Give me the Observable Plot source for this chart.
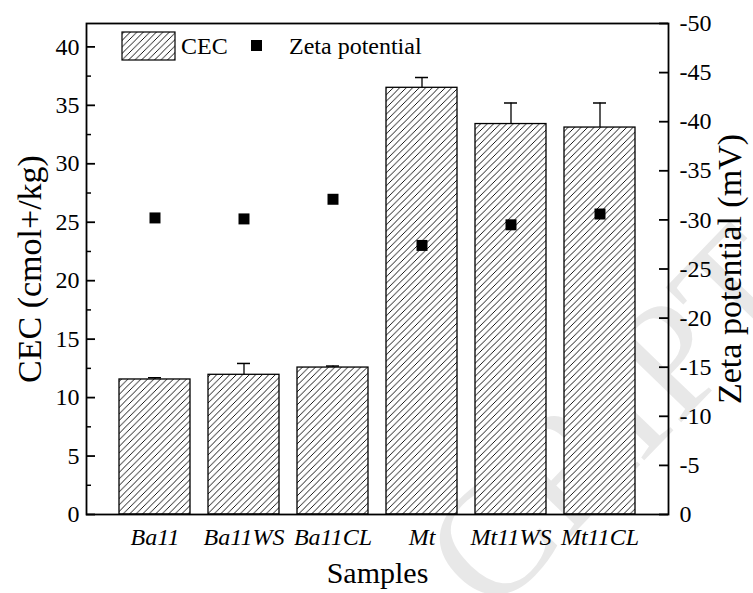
<!DOCTYPE html>
<html><head><meta charset="utf-8">
<script src="https://cdn.jsdelivr.net/npm/d3@7"></script>
<script src="https://cdn.jsdelivr.net/npm/@observablehq/plot@0.6"></script>
<style>
body{margin:0;background:#fff}
#chart{position:relative;width:753px;height:593px}
#chart svg{display:block}
</style>
</head><body><div id="chart"></div>
<script>
const samples = ["Ba11", "Ba11WS", "Ba11CL", "Mt", "Mt11WS", "Mt11CL"];
const cec = [11.55, 11.95, 12.57, 36.5, 33.4, 33.1];
const cecErr = [0.15, 0.97, 0.13, 0.88, 1.8, 2.1];
const zeta = [-30.2, -30.1, -32.1, -27.4, -29.5, -30.6];
const leftTicks = [0, 5, 10, 15, 20, 25, 30, 35, 40];
const leftMinor = [2.5, 7.5, 12.5, 17.5, 22.5, 27.5, 32.5, 37.5];
const rightTicks = [0, -5, -10, -15, -20, -25, -30, -35, -40, -45, -50];
const CEC_MAX = 42, ZETA_MIN = -50;
const toLeft = z => z / ZETA_MIN * CEC_MAX;

const data = samples.map((s, i) => ({s, cec: cec[i], err: cecErr[i], zeta: zeta[i]}));

const W = 753, H = 593, mL = 86, mR = 85, mT = 23, mB = 79;
const plotW = W - mL - mR;
const serif = "'Liberation Serif', 'Times New Roman', serif";

const plot = Plot.plot({
  width: W, height: H,
  marginLeft: mL, marginRight: mR, marginTop: mT, marginBottom: mB,
  style: {fontFamily: serif, background: "#fff", color: "#000", overflow: "visible"},
  x: {domain: samples, paddingInner: 0.2, paddingOuter: 0.35, label: null},
  y: {domain: [0, CEC_MAX], label: null},
  marks: [
    Plot.barY(data, {x: "s", y: "cec", fill: "url(#hatch)", stroke: "#000", strokeWidth: 1.3}),
    Plot.ruleX(data, {x: "s", y1: "cec", y2: d => d.cec + d.err, stroke: "#000", strokeWidth: 1.3}),
    Plot.tickY(data, {x: "s", y: d => d.cec + d.err, insetLeft: 29, insetRight: 29, stroke: "#000", strokeWidth: 1.5}),
    Plot.dot(data, {x: "s", y: d => toLeft(d.zeta), symbol: "square", r: 6.2, fill: "#000", stroke: null}),
    Plot.frame({stroke: "#000", strokeWidth: 1.8}),
    Plot.tickY(leftTicks, {y: d => d, insetRight: plotW - 9, stroke: "#000", strokeWidth: 1.8}),
    Plot.tickY(leftMinor, {y: d => d, insetRight: plotW - 5, stroke: "#000", strokeWidth: 1.5}),
    Plot.tickY(rightTicks, {y: toLeft, insetLeft: plotW - 9, stroke: "#000", strokeWidth: 1.8}),
    Plot.axisY(leftTicks, {anchor: "left", tickSize: 0, tickPadding: 7, fontSize: 24, label: null, tickFormat: d => String(d)}),
    Plot.axisY(rightTicks.map(toLeft), {anchor: "right", tickSize: 0, tickPadding: 11, fontSize: 24, label: null,
      tickFormat: v => { const z = Math.round(v / CEC_MAX * ZETA_MIN); return z === 0 ? "0" : "-" + Math.abs(z); }}),
    Plot.axisX({anchor: "bottom", tickSize: 0, tickPadding: 13, fontSize: 24, fontStyle: "italic", label: null}),
    Plot.text(["CEC (cmol+/kg)"], {frameAnchor: "left", textAnchor: "middle", lineAnchor: "middle", rotate: -90, dx: -56, fontSize: 34, fill: "#000"}),
    Plot.text(["Zeta potential (mV)"], {frameAnchor: "right", textAnchor: "middle", lineAnchor: "middle", rotate: -90, dx: 62, fontSize: 34, fill: "#000"}),
    Plot.text(["Samples"], {frameAnchor: "bottom", textAnchor: "middle", lineAnchor: "middle", dy: 59, fontSize: 30, fill: "#000"})
  ]
});

const svg = d3.select(plot);
const defs = svg.insert("defs", ":first-child");
const pat = defs.append("pattern").attr("id", "hatch").attr("patternUnits", "userSpaceOnUse")
  .attr("width", 6.5).attr("height", 6.5);
pat.append("rect").attr("width", 6.5).attr("height", 6.5).attr("fill", "#fff");
pat.append("path").attr("d", "M-1,1 l2,-2 M0,6.5 l6.5,-6.5 M5.5,7.5 l2,-2")
  .attr("stroke", "#000").attr("stroke-width", 0.9);

// watermark (behind everything)
const wm = svg.insert("g", "defs + *").attr("fill", "#e8e8e8").attr("font-family", serif)
  .attr("text-anchor", "start");
wm.append("text").attr("transform", "translate(492,618) rotate(-46)")
  .attr("font-size", 160).text("CRIPT");

// legend
const lg = svg.append("g").attr("font-family", serif).attr("font-size", 24).attr("fill", "#000")
  .attr("text-anchor", "start");
lg.append("rect").attr("x", 122).attr("y", 32).attr("width", 53).attr("height", 28)
  .attr("fill", "url(#hatch)").attr("stroke", "#000").attr("stroke-width", 1.2);
lg.append("text").attr("x", 181).attr("y", 54).text("CEC");
lg.append("rect").attr("x", 251).attr("y", 40).attr("width", 11).attr("height", 11).attr("fill", "#000");
lg.append("text").attr("x", 289).attr("y", 54).text("Zeta potential");

document.getElementById("chart").appendChild(plot);
</script>
</body></html>
